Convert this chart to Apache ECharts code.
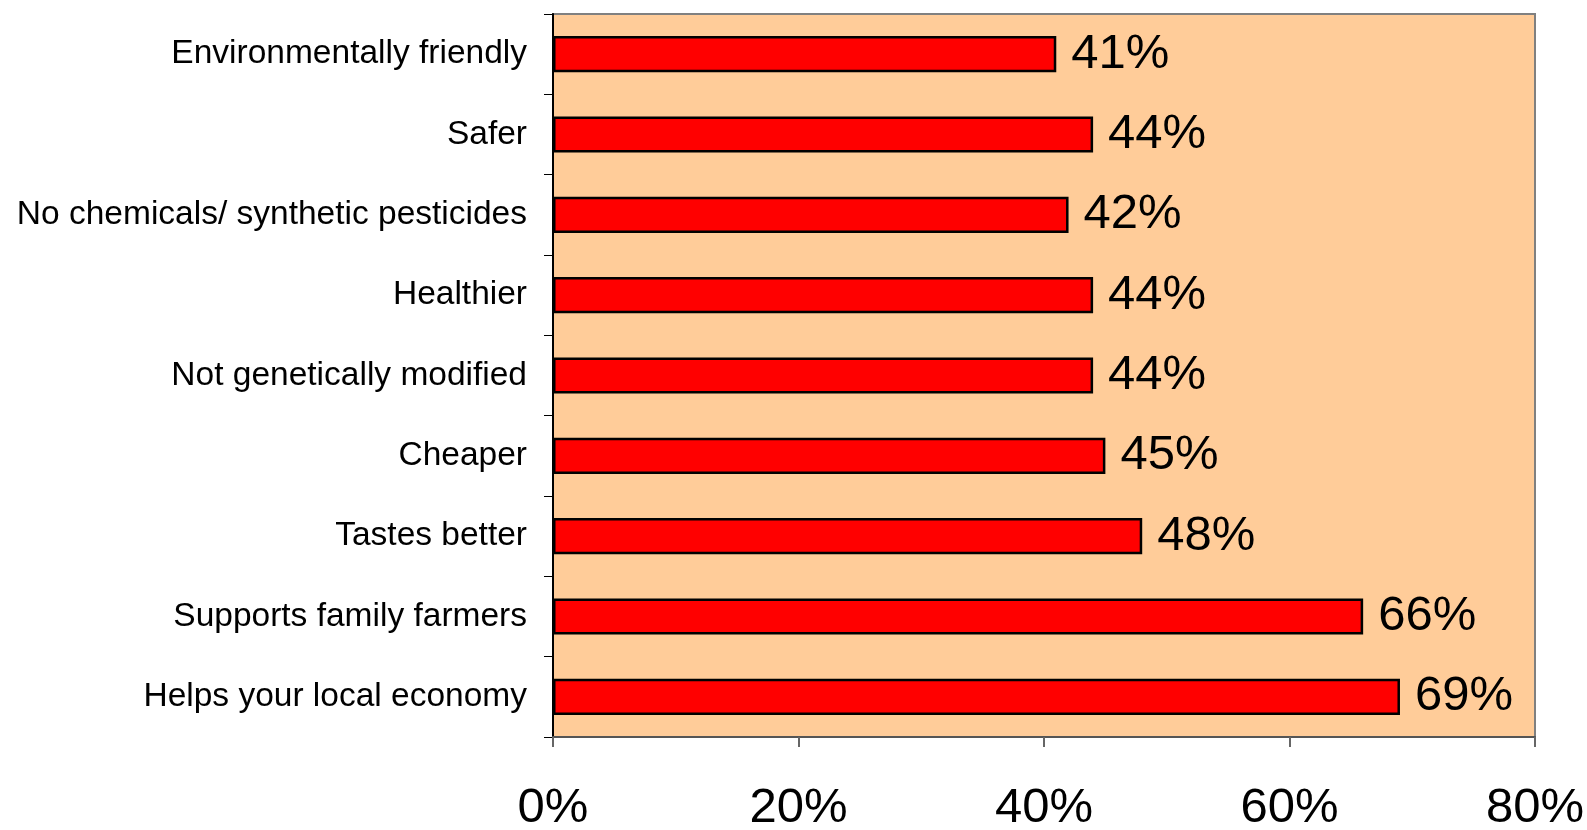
<!DOCTYPE html>
<html>
<head>
<meta charset="utf-8">
<script src="https://cdn.jsdelivr.net/npm/echarts@6/dist/echarts.min.js"></script>
<style>
  html, body { margin: 0; padding: 0; background: #ffffff; }
  #chart { width: 1587px; height: 830px; }
</style>
</head>
<body>
<div id="chart"></div>
<script>
// Reasons for buying local food (share of respondents)
const categories = [
  'Environmentally friendly',
  'Safer',
  'No chemicals/ synthetic pesticides',
  'Healthier',
  'Not genetically modified',
  'Cheaper',
  'Tastes better',
  'Supports family farmers',
  'Helps your local economy'
];
const shares = [41, 44, 42, 44, 44, 45, 48, 66, 69];
const xTicks = [0, 20, 40, 60, 80];

const chart = echarts.init(document.getElementById('chart'));
chart.setOption({
  animation: false,
  grid: {
    left: 553, right: 52, top: 14, bottom: 93,
    outerBoundsMode: 'none',
    containLabel: false,
    show: true,
    backgroundColor: '#FFCC99',
    borderColor: '#808080',
    borderWidth: 2
  },
  xAxis: {
    type: 'value',
    min: xTicks[0],
    max: xTicks[xTicks.length - 1],
    interval: 20,
    splitLine: { show: false },
    axisLine: { show: true, lineStyle: { color: '#555555', width: 2 } },
    axisTick: { show: true, length: 10, lineStyle: { color: '#666666', width: 2 } },
    axisLabel: {
      margin: 47,
      color: '#000000',
      fontFamily: 'Liberation Sans, Arial, sans-serif',
      fontSize: 49,
      formatter: v => v + '%'
    }
  },
  yAxis: {
    type: 'category',
    data: categories,
    inverse: true,
    axisLine: { show: true, lineStyle: { color: '#000000', width: 2 } },
    axisTick: { show: true, length: 9, lineStyle: { color: '#000000', width: 1 } },
    axisLabel: {
      margin: 26,
      color: '#000000',
      fontFamily: 'Liberation Sans, Arial, sans-serif',
      fontSize: 33.5
    }
  },
  series: [{
    type: 'bar',
    data: shares,
    barWidth: '45%',
    itemStyle: { color: '#FF0000', borderColor: '#000000', borderWidth: 2.5 },
    label: {
      show: true,
      position: 'right',
      distance: 15,
      color: '#000000',
      fontFamily: 'Liberation Sans, Arial, sans-serif',
      fontSize: 49,
      formatter: p => p.value + '%'
    }
  }]
});
</script>
</body>
</html>
